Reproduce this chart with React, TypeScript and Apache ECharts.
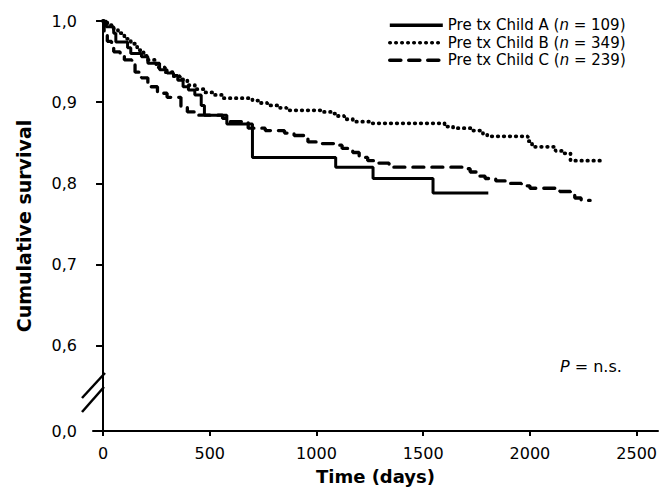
import React, { useEffect, useRef } from "react";
import * as echarts from "echarts";

// ---- data ----
const SERIES_NAMES = ["Pre tx Child A", "Pre tx Child B", "Pre tx Child C"];
const SERIES_N = [109, 349, 239];

const A_T = [0, 15, 50, 60, 115, 130, 180, 210, 265, 300, 330, 350, 375, 400, 430, 460, 475, 580, 700, 1090, 1265, 1546, 1805];
const A_S = [1.0, 0.993, 0.985, 0.974, 0.967, 0.96, 0.956, 0.948, 0.94, 0.936, 0.933, 0.927, 0.919, 0.915, 0.909, 0.896, 0.884, 0.873, 0.832, 0.82, 0.806, 0.788, 0.788];

const B_T = [0, 20, 50, 70, 100, 130, 160, 190, 210, 250, 290, 330, 360, 395, 430, 470, 520, 560, 700, 730, 770, 820, 860, 1030, 1080, 1100, 1130, 1170, 1260, 1600, 1640, 1730, 1780, 1800, 1990, 2010, 2120, 2160, 2190, 2345];
const B_S = [1.0, 0.995, 0.99, 0.985, 0.978, 0.972, 0.964, 0.957, 0.952, 0.943, 0.937, 0.932, 0.928, 0.921, 0.916, 0.912, 0.909, 0.905, 0.902, 0.899, 0.896, 0.893, 0.89, 0.888, 0.886, 0.883, 0.879, 0.876, 0.874, 0.87, 0.868, 0.865, 0.861, 0.858, 0.852, 0.845, 0.84, 0.837, 0.828, 0.828];

const C_T = [0, 5, 20, 40, 50, 80, 100, 135, 150, 180, 210, 255, 300, 365, 395, 430, 560, 590, 680, 760, 850, 895, 960, 1020, 1100, 1120, 1170, 1200, 1240, 1280, 1340, 1690, 1720, 1760, 1790, 1840, 1890, 1960, 2000, 2140, 2190, 2210, 2240, 2282];
const C_S = [1.0, 0.985, 0.975, 0.968, 0.962, 0.958, 0.952, 0.946, 0.937, 0.93, 0.919, 0.911, 0.906, 0.894, 0.888, 0.884, 0.88, 0.876, 0.868, 0.865, 0.862, 0.859, 0.851, 0.849, 0.847, 0.843, 0.838, 0.832, 0.828, 0.825, 0.82, 0.818, 0.814, 0.809, 0.806, 0.803, 0.8, 0.797, 0.794, 0.79, 0.786, 0.782, 0.779, 0.779];

const X_TICKS = [0, 500, 1000, 1500, 2000, 2500];
const BREAK_VAL = 0.495; // where "0,0" sits on the broken axis
const Y_TICKS = [BREAK_VAL, 0.6, 0.7, 0.8, 0.9, 1.0];

const FONT = '"DejaVu Sans", sans-serif';

function pairs(t: number[], s: number[]) {
  return t.map((v, i) => [v, s[i]]);
}

export default function App() {
  const ref = useRef<HTMLDivElement>(null);
  useEffect(() => {
    document.body.style.margin = "0";
    const chart = echarts.init(ref.current!, null, { renderer: "svg" });
    const dataSets = [pairs(A_T, A_S), pairs(B_T, B_S), pairs(C_T, C_S)];
    const lineTypes: any[] = ["solid", [0.5, 5.5], [11, 8]];
    const widths = [3, 3.8, 3.3];
    const caps: any[] = ["butt", "round", "round"];
    const option: any = {
      animation: false,
      backgroundColor: "#fff",
      textStyle: { fontFamily: FONT },
      grid: { left: 93, right: 2, top: 21, bottom: 70, containLabel: false, outerBoundsMode: "none" },
      legend: {
        orient: "vertical",
        left: 383,
        top: 11.5,
        itemWidth: 53,
        itemHeight: 14,
        itemGap: 0,
        data: SERIES_NAMES,
        itemStyle: { opacity: 0 },
        lineStyle: { width: 3.6 },
        formatter: (name: string) => {
          const i = SERIES_NAMES.indexOf(name);
          return `${name} ({i|n} = ${SERIES_N[i]})`;
        },
        textStyle: {
          fontFamily: FONT,
          fontSize: 15,
          color: "#000",
          lineHeight: 17.5,
          rich: { i: { fontStyle: "italic", fontFamily: FONT, fontSize: 15, color: "#000", lineHeight: 17.5 } },
        },
      },
      xAxis: {
        type: "value",
        min: -47,
        max: 2600,
        name: "Time (days)",
        nameLocation: "middle",
        nameGap: 36,
        nameTextStyle: { fontFamily: FONT, fontSize: 18, fontWeight: "bold", color: "#000" },
        axisLine: { lineStyle: { color: "#000", width: 2 } },
        axisTick: { customValues: X_TICKS, length: 5, lineStyle: { color: "#000", width: 2 } },
        axisLabel: {
          customValues: X_TICKS,
          fontFamily: FONT,
          fontSize: 16,
          color: "#000",
          margin: 14,
          formatter: (v: number) => String(v),
        },
        splitLine: { show: false },
      },
      yAxis: {
        type: "value",
        min: BREAK_VAL,
        max: 1.0,
        name: "Cumulative survival",
        nameLocation: "middle",
        nameGap: 60,
        nameTextStyle: { fontFamily: FONT, fontSize: 19, fontWeight: "bold", color: "#000" },
        axisLine: { show: true, lineStyle: { color: "#000", width: 2 } },
        axisTick: { show: true, customValues: Y_TICKS, length: 7, lineStyle: { color: "#000", width: 2 } },
        axisLabel: {
          customValues: Y_TICKS,
          fontFamily: FONT,
          fontSize: 16,
          color: "#000",
          margin: 16,
          formatter: (v: number) => (v < 0.55 ? "0,0" : v.toFixed(1).replace(".", ",")),
        },
        splitLine: { show: false },
      },
      series: SERIES_NAMES.map((name, i) => ({
        name,
        type: "line",
        step: "end",
        symbol: "none",
        data: dataSets[i],
        lineStyle: { color: "#000", width: widths[i], type: lineTypes[i], cap: caps[i] },
        itemStyle: { color: "#000" },
      })),
      graphic: [
        { type: "line", shape: { x1: 82, y1: 398, x2: 105, y2: 373 }, style: { stroke: "#000", lineWidth: 2.5 } },
        { type: "line", shape: { x1: 82, y1: 412, x2: 104, y2: 387 }, style: { stroke: "#000", lineWidth: 2.5 } },
        {
          type: "text",
          left: 560,
          top: 358,
          style: {
            text: "{i|P} = n.s.",
            fontFamily: FONT,
            fontSize: 16,
            fill: "#000",
            rich: { i: { fontStyle: "italic", fontFamily: FONT, fontSize: 16, fill: "#000" } },
          },
        },
      ],
    };
    chart.setOption(option);
    return () => chart.dispose();
  }, []);
  return <div ref={ref} style={{ width: 660, height: 501 }} />;
}
